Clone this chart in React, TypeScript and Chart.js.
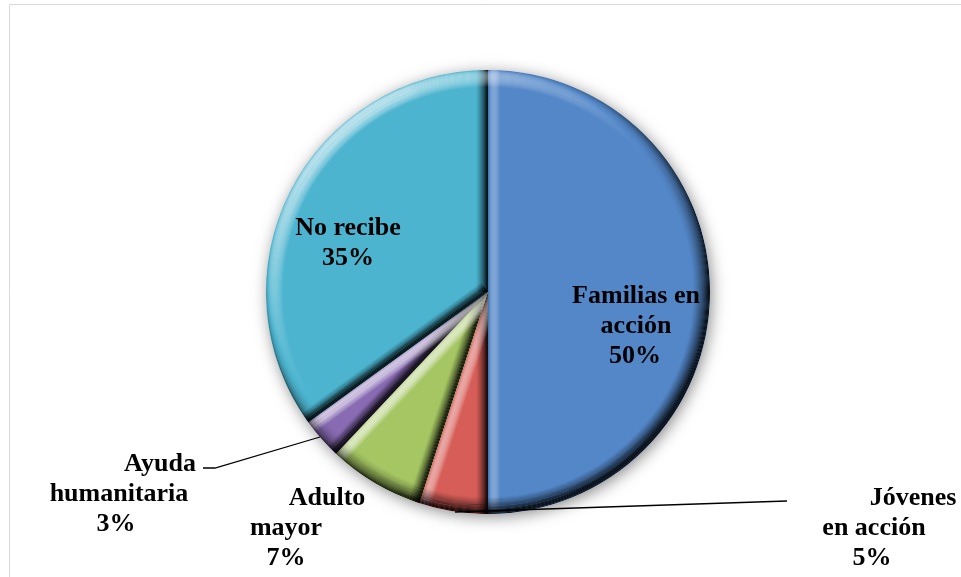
import React, { useEffect, useRef } from "react";
import { Chart, registerables } from "chart.js";

Chart.register(...registerables);

const categories = ["Familias en acción", "Jóvenes en acción", "Adulto mayor", "Ayuda humanitaria", "No recibe"];
const values = [50, 5, 7, 3, 35];
const sliceColors = ["#5387C8", "#D75E58", "#A5C663", "#886BB3", "#4CB4CF"];
// wrapped label lines (percentage line is appended from values)
const labelLines = [["Familias en", "acción"], ["Jóvenes", "en acción"], ["Adulto", "mayor"], ["Ayuda", "humanitaria"], ["No recibe"]];

// layout of label text: per-line center x, first baseline y
const labelLayout = [
  { xs: [636, 636, 635], y: 303 },
  { xs: [913, 874, 872], y: 505 },
  { xs: [327, 286, 286], y: 505 },
  { xs: [160, 119, 116], y: 471 },
  { xs: [348, 348], y: 235 },
];
const leaderLines = [
  null,
  [[455, 512], [787, 501]],
  null,
  [[203, 468], [215, 468], [320, 437]],
  null,
];

const LIGHT = [-0.6 * 0.707, -0.8 * 0.707, 0.707];

function shade(n2x: number, n2y: number, s: number) {
  const phi = Math.asin(Math.max(0, Math.min(1, 1 - s)));
  const nx = Math.sin(phi) * n2x, ny = Math.sin(phi) * n2y, nz = Math.cos(phi);
  const I = nx * LIGHT[0] + ny * LIGHT[1] + nz * LIGHT[2];
  const d = I - LIGHT[2];
  if (d >= 0) return `rgba(255,255,255,${Math.min(0.7, d * 2.0).toFixed(3)})`;
  return `rgba(0,0,0,${Math.min(0.85, -d * 1.1).toFixed(3)})`;
}

const bevelPlugin = {
  id: "bevel",
  beforeDatasetsDraw(chart: any) {
    const ctx = chart.ctx;
    const el = chart.getDatasetMeta(0).data[0];
    if (!el) return;
    const { x, y, outerRadius } = el.getProps(["x", "y", "outerRadius"], true);
    ctx.save();
    ctx.shadowColor = "rgba(0,0,0,0.5)";
    ctx.shadowBlur = 16;
    ctx.shadowOffsetX = 2;
    ctx.shadowOffsetY = 3;
    ctx.beginPath();
    ctx.arc(x, y, outerRadius - 1, 0, Math.PI * 2);
    ctx.fillStyle = "#ffffff";
    ctx.fill();
    ctx.restore();
  },
  afterDatasetsDraw(chart: any) {
    const ctx = chart.ctx;
    const arcs = chart.getDatasetMeta(0).data;
    const W = 17;
    arcs.forEach((el: any) => {
      const { x, y, startAngle, endAngle, outerRadius: R } = el.getProps(["x", "y", "startAngle", "endAngle", "outerRadius"], true);
      ctx.save();
      ctx.beginPath();
      ctx.moveTo(x, y);
      ctx.arc(x, y, R, startAngle, endAngle);
      ctx.closePath();
      ctx.clip();
      // radial edges
      const edges = [
        { a: startAngle, nx: Math.sin(startAngle), ny: -Math.cos(startAngle) },
        { a: endAngle, nx: -Math.sin(endAngle), ny: Math.cos(endAngle) },
      ];
      const EW = 12;
      edges.forEach((e) => {
        const dx = Math.cos(e.a), dy = Math.sin(e.a);
        for (let i = 0; i < EW; i++) {
          const s = (i + 0.5) / EW;
          const off = i + 0.5;
          const ox = -e.nx * off, oy = -e.ny * off;
          ctx.beginPath();
          ctx.moveTo(x + ox, y + oy);
          ctx.lineTo(x + ox + dx * R, y + oy + dy * R);
          ctx.lineWidth = 1.2;
          ctx.strokeStyle = shade(e.nx, e.ny, s);
          ctx.stroke();
        }
      });
      // rim
      for (let i = 0; i < W; i++) {
        const s = (i + 0.5) / W;
        const g = ctx.createConicGradient(0, x, y);
        const N = 72;
        for (let k = 0; k <= N; k++) {
          const th = (k / N) * Math.PI * 2;
          g.addColorStop(k / N, shade(Math.cos(th), Math.sin(th), s));
        }
        ctx.beginPath();
        ctx.arc(x, y, R - i - 0.5, 0, Math.PI * 2);
        ctx.lineWidth = 1.2;
        ctx.strokeStyle = g;
        ctx.stroke();
      }
      ctx.restore();
    });
  },
};

const labelPlugin = {
  id: "labelsOut",
  afterDraw(chart: any) {
    const ctx = chart.ctx;
    ctx.save();
    // frame
    ctx.strokeStyle = "#D9D9D9";
    ctx.lineWidth = 1;
    ctx.beginPath();
    ctx.moveTo(9.5, 577);
    ctx.lineTo(9.5, 4.5);
    ctx.lineTo(961, 4.5);
    ctx.stroke();
    // leader lines
    ctx.strokeStyle = "#000";
    ctx.lineWidth = 1.3;
    leaderLines.forEach((pts) => {
      if (!pts) return;
      ctx.beginPath();
      pts.forEach((p, i) => (i === 0 ? ctx.moveTo(p[0], p[1]) : ctx.lineTo(p[0], p[1])));
      ctx.stroke();
    });
    // texts
    const total = values.reduce((a, b) => a + b, 0);
    ctx.fillStyle = "#000";
    ctx.font = 'bold 26px "Liberation Serif", "Times New Roman", serif';
    ctx.textAlign = "center";
    ctx.textBaseline = "alphabetic";
    categories.forEach((_, i) => {
      const lines = [...labelLines[i], Math.round((values[i] / total) * 100) + "%"];
      const lay = labelLayout[i];
      lines.forEach((t, j) => ctx.fillText(t, lay.xs[j], lay.y + j * 30));
    });
    ctx.restore();
  },
};

export default function App() {
  const ref = useRef<HTMLCanvasElement | null>(null);
  useEffect(() => {
    document.body.style.margin = "0";
    const chart = new Chart(ref.current as HTMLCanvasElement, {
      type: "pie",
      data: {
        labels: categories,
        datasets: [{ data: values, backgroundColor: sliceColors, borderWidth: 0 }],
      },
      options: {
        animation: false,
        responsive: false,
        layout: { padding: { left: 266, right: 251, top: 70, bottom: 63 } },
        plugins: { legend: { display: false }, tooltip: { enabled: false } },
      },
      plugins: [bevelPlugin, labelPlugin],
    });
    return () => chart.destroy();
  }, []);
  return (
    <div style={{ position: "absolute", left: 0, top: 0, width: 961, height: 577, background: "#fff" }}>
      <canvas ref={ref} width={961} height={577} style={{ width: 961, height: 577 }} />
    </div>
  );
}
